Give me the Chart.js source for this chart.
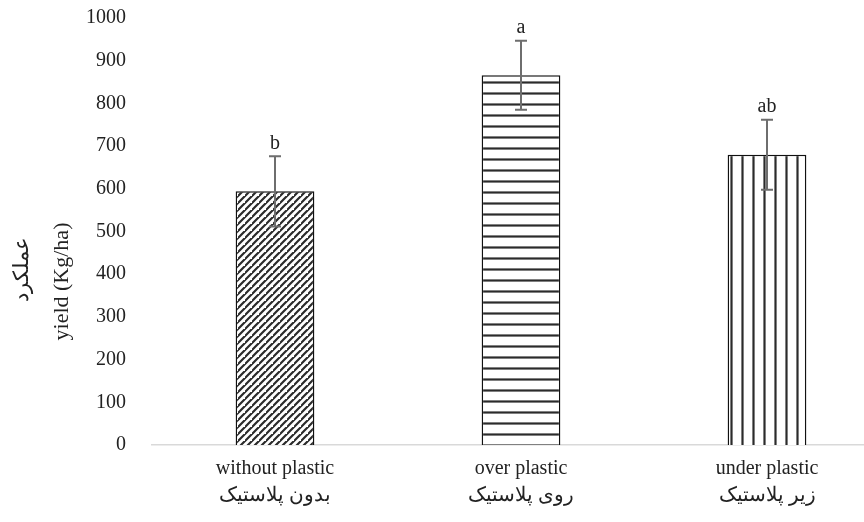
<!DOCTYPE html>
<html>
<head>
<meta charset="utf-8">
<script src="https://cdn.jsdelivr.net/npm/chart.js@4.4.1/dist/chart.umd.min.js"></script>
<style>
  html, body { margin: 0; padding: 0; background: #fff; overflow: hidden; }
  #wrap { width: 864px; height: 522px; overflow: hidden; }
</style>
</head>
<body>
<div id="wrap"><canvas id="chart" width="890" height="522"></canvas></div>
<script>
// yield by plastic placement

const categories = [
  ["without plastic", "بدون پلاستیک"],
  ["over plastic", "روی پلاستیک"],
  ["under plastic", "زیر پلاستیک"],
];
const yieldValues = [594, 866, 680];
const errorValues = [82, 81, 82];
const letters = ["b", "a", "ab"];
const yTitle = ["عملکرد", "yield (Kg/ha)"];

const FONT = "'Liberation Serif', 'DejaVu Serif', serif";

function makePattern(kind) {
  const size = kind === "diag" ? 7 : 11;
  const c = document.createElement("canvas");
  c.width = size;
  c.height = size;
  const g = c.getContext("2d");
  g.fillStyle = "#fff";
  g.fillRect(0, 0, size, size);
  g.strokeStyle = "#2b2b2b";
  g.lineWidth = 2.2;
  g.beginPath();
  if (kind === "diag") {
    g.moveTo(-1, size + 1);
    g.lineTo(size + 1, -1);
    g.moveTo(-size - 1, size + 1);
    g.lineTo(1, -1);
    g.moveTo(size - 1, 2 * size + 1);
    g.lineTo(2 * size + 1, size - 1);
  } else if (kind === "horiz") {
    g.moveTo(0, size / 2);
    g.lineTo(size, size / 2);
  } else {
    g.moveTo(size / 2, 0);
    g.lineTo(size / 2, size);
  }
  g.stroke();
  return g.createPattern(c, "repeat");
}

const errorBarPlugin = {
  id: "errorBars",
  afterDatasetsDraw(chart) {
    const ctx = chart.ctx;
    const meta = chart.getDatasetMeta(0);
    const y = chart.scales.y;
    ctx.save();
    meta.data.forEach((bar, i) => {
      const top = y.getPixelForValue(yieldValues[i] + errorValues[i]);
      const bottom = y.getPixelForValue(yieldValues[i] - errorValues[i]);
      ctx.strokeStyle = "#6e6e6e";
      ctx.lineWidth = 2;
      ctx.beginPath();
      ctx.moveTo(bar.x, top);
      ctx.lineTo(bar.x, bottom);
      ctx.moveTo(bar.x - 6, top);
      ctx.lineTo(bar.x + 6, top);
      ctx.moveTo(bar.x - 6, bottom);
      ctx.lineTo(bar.x + 6, bottom);
      ctx.stroke();
      ctx.fillStyle = "#222";
      ctx.font = "20px " + FONT;
      ctx.textAlign = "center";
      ctx.textBaseline = "bottom";
      ctx.fillText(letters[i], bar.x, top - 3);
    });
    ctx.restore();
  },
};

// axis title sits a bit below the middle of the axis, like the original
const yTitlePlugin = {
  id: "yTitle",
  afterDraw(chart) {
    const ctx = chart.ctx;
    const area = chart.chartArea;
    const mid = (area.top + area.bottom) / 2;
    ctx.save();
    ctx.fillStyle = "#222";
    ctx.textAlign = "center";
    ctx.textBaseline = "middle";
    ctx.translate(22, mid + 38);
    ctx.rotate(-Math.PI / 2);
    ctx.font = "21px " + FONT;
    ctx.fillText(yTitle[0], 0, 0);
    ctx.restore();
    ctx.save();
    ctx.fillStyle = "#222";
    ctx.textAlign = "center";
    ctx.textBaseline = "middle";
    ctx.translate(62, mid + 50);
    ctx.rotate(-Math.PI / 2);
    ctx.font = "22px " + FONT;
    ctx.fillText(yTitle[1], 0, 0);
    ctx.restore();
  },
};

new Chart(document.getElementById("chart"), {
  type: "bar",
  data: {
    labels: categories,
    datasets: [
      {
        label: "yield",
        data: yieldValues,
        backgroundColor: [makePattern("diag"), makePattern("horiz"), makePattern("vert")],
        borderColor: "#111",
        borderWidth: 1.5,
        borderSkipped: "bottom",
        categoryPercentage: 1,
        barPercentage: 0.32,
      },
    ],
  },
  options: {
    responsive: false,
    animation: false,
    layout: { padding: { top: 18, right: 0, left: 0, bottom: 0 } },
    plugins: { legend: { display: false }, tooltip: { enabled: false } },
    scales: {
      x: {
        grid: { display: false },
        border: { display: true, color: "#d9d9d9", width: 1.5 },
        ticks: {
          color: "#222",
          font: { family: FONT, size: 20, lineHeight: 1.35 },
          padding: 2,
          maxRotation: 0,
        },
        afterFit(scale) {
          scale.height = 77;
        },
      },
      y: {
        min: 0,
        max: 1000,
        grid: { display: false },
        border: { display: false },
        ticks: {
          stepSize: 100,
          color: "#222",
          font: { family: FONT, size: 20 },
          padding: 18,
          callback: (value) => String(value),
        },
        afterFit(scale) {
          scale.width = 152;
          scale.paddingTop = 0;
        },
      },
    },
  },
  plugins: [errorBarPlugin, yTitlePlugin],
});
</script>
</body>
</html>
